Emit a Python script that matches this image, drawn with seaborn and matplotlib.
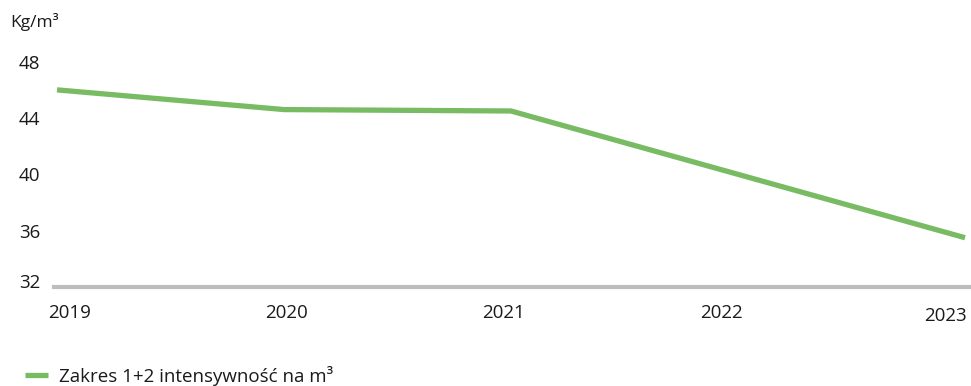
import matplotlib
matplotlib.use("Agg")
import matplotlib.pyplot as plt
import matplotlib.transforms as mtransforms
import seaborn as sns
import pandas as pd

years = [2019, 2020, 2021, 2022, 2023]
intensity = [46.0, 44.6, 44.5, 40.0, 35.5]
series_label = "Zakres 1+2 intensywność na m³"
unit_label = "Kg/m³"
y_ticks = [32, 36, 40, 44, 48]

df = pd.DataFrame({"year": years, "value": intensity, "series": series_label})

sns.set_theme(style="white")
plt.rcParams['font.family'] = ['Open Sans', 'DejaVu Sans']

W, H = 971, 386
fig = plt.figure(figsize=(W / 100, H / 100), dpi=100)
ax = fig.add_axes([54 / W, 1 - 287 / H, (971 - 54) / W, (287 - 61.7) / H])

green = "#78bb63"
sns.lineplot(data=df, x="year", y="value", hue="series", palette=[green],
             linewidth=3.8, ax=ax, legend=True, solid_capstyle="butt", clip_on=False)

ax.set_ylim(32, 48)
ax.set_xlim(2019 - 3 / 227, 2023 + 6 / 227)
ax.set_xlabel("")
ax.set_ylabel("")

for s in ["top", "right", "left"]:
    ax.spines[s].set_visible(False)
ax.spines["bottom"].set_color("#bdbdbe")
ax.spines["bottom"].set_linewidth(3.0)

ax.set_xticks(years)
ax.set_xticklabels([str(y) for y in years])
ax.set_yticks(y_ticks)
ax.set_yticklabels([str(t) for t in y_ticks])
ax.tick_params(axis="both", length=0, labelsize=13.5, colors="#1a1a1a")
ax.tick_params(axis="y", pad=10)
ax.tick_params(axis="x", pad=12)

# fine label offsets (pixels) to match the reference layout
x_off = [13, 3, -7, -17, -20]
x_voff = [0, 0, 0, 0, -3]
for lbl, dx, dy in zip(ax.get_xticklabels(), x_off, x_voff):
    lbl.set_transform(lbl.get_transform() + mtransforms.ScaledTranslation(dx / 100, dy / 100, fig.dpi_scale_trans))
y_voff = [6, 0, 0, 0, 0]
for lbl, dy in zip(ax.get_yticklabels(), y_voff):
    lbl.set_transform(lbl.get_transform() + mtransforms.ScaledTranslation(0, dy / 100, fig.dpi_scale_trans))

fig.text(10 / W, 1 - 22 / H, unit_label, ha="left", va="center", fontsize=12.5, color="#1a1a1a")

leg = ax.legend(loc="center left", bbox_to_anchor=(25 / W, 1 - 376 / H),
                bbox_transform=fig.transFigure, frameon=False, borderaxespad=0,
                borderpad=0, handlelength=1.2, handletextpad=0.6, fontsize=13.5)
for t in leg.get_texts():
    t.set_color("#1a1a1a")
for h in leg.get_lines():
    h.set_linewidth(3.8)

fig.savefig("out.png", dpi=100)
